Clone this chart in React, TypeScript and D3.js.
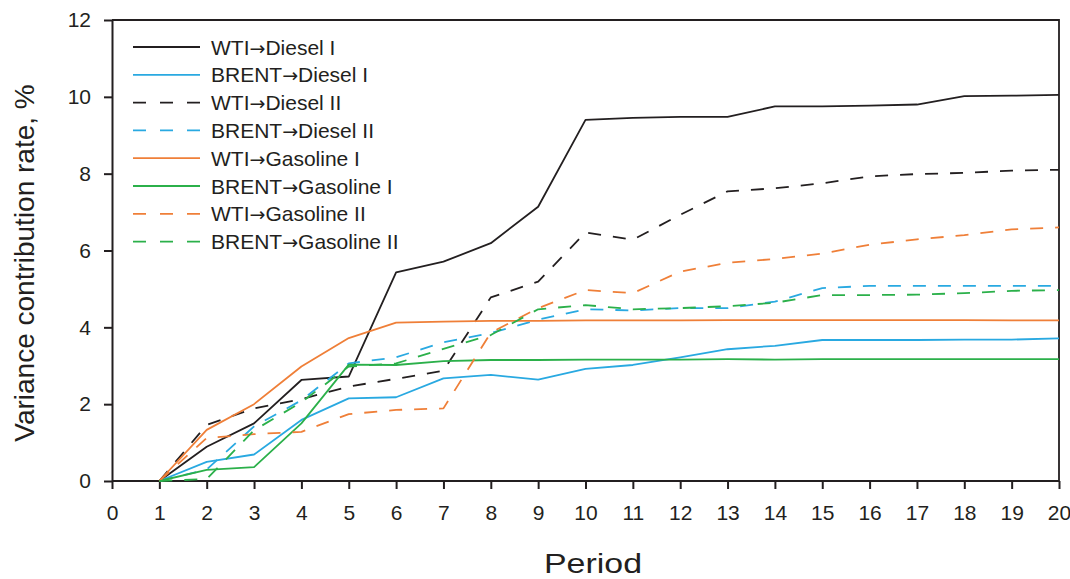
import React, { useEffect, useRef } from "react";
import * as d3 from "d3";

// periods 1..20
const periods = [1, 2, 3, 4, 5, 6, 7, 8, 9, 10, 11, 12, 13, 14, 15, 16, 17, 18, 19, 20];

const wtiDiesel1 = [0, 0.89, 1.5, 2.63, 2.72, 5.43, 5.71, 6.19, 7.14, 9.4, 9.45, 9.48, 9.48, 9.75, 9.75, 9.77, 9.8, 10.02, 10.03, 10.05];
const brentDiesel1 = [0, 0.5, 0.69, 1.59, 2.15, 2.18, 2.67, 2.76, 2.64, 2.92, 3.02, 3.22, 3.43, 3.52, 3.67, 3.67, 3.67, 3.68, 3.68, 3.71];
const wtiDiesel2 = [0, 1.46, 1.89, 2.13, 2.46, 2.66, 2.87, 4.78, 5.19, 6.47, 6.28, 6.93, 7.54, 7.62, 7.75, 7.93, 7.99, 8.02, 8.08, 8.1];
const brentDiesel2 = [0, 0.3, 1.42, 2.1, 3.06, 3.22, 3.61, 3.85, 4.2, 4.47, 4.44, 4.5, 4.5, 4.67, 5.02, 5.08, 5.08, 5.08, 5.08, 5.08];
const wtiGasoline1 = [0, 1.33, 2.0, 2.98, 3.72, 4.12, 4.15, 4.17, 4.17, 4.18, 4.18, 4.18, 4.19, 4.19, 4.19, 4.19, 4.19, 4.19, 4.18, 4.18];
const brentGasoline1 = [0, 0.29, 0.36, 1.5, 3.03, 3.02, 3.12, 3.15, 3.15, 3.16, 3.16, 3.16, 3.17, 3.16, 3.17, 3.17, 3.17, 3.17, 3.17, 3.17];
const wtiGasoline2 = [0, 1.12, 1.22, 1.28, 1.74, 1.85, 1.89, 3.86, 4.5, 4.97, 4.89, 5.45, 5.68, 5.78, 5.92, 6.15, 6.29, 6.4, 6.55, 6.6];
const brentGasoline2 = [0, 0.05, 1.32, 2.05, 2.98, 3.06, 3.44, 3.8, 4.47, 4.58, 4.47, 4.5, 4.55, 4.64, 4.84, 4.84, 4.85, 4.89, 4.95, 4.97];

const seriesNames = [
  "WTI→Diesel I",
  "BRENT→Diesel I",
  "WTI→Diesel II",
  "BRENT→Diesel II",
  "WTI→Gasoline I",
  "BRENT→Gasoline I",
  "WTI→Gasoline II",
  "BRENT→Gasoline II",
];
const seriesValues = [
  wtiDiesel1, brentDiesel1, wtiDiesel2, brentDiesel2,
  wtiGasoline1, brentGasoline1, wtiGasoline2, brentGasoline2,
];
const seriesColors = ["#231f20", "#29a9e1", "#231f20", "#29a9e1", "#ef7f38", "#2bb04a", "#ef7f38", "#2bb04a"];
const seriesDashed = [false, false, true, true, false, false, true, true];

const xTicks = [0, 1, 2, 3, 4, 5, 6, 7, 8, 9, 10, 11, 12, 13, 14, 15, 16, 17, 18, 19, 20];
const yTicks = [0, 2, 4, 6, 8, 10, 12];

const font = "'Liberation Sans', Arial, sans-serif";
const axisColor = "#231f20";

const App = () => {
  const ref = useRef<SVGSVGElement>(null);

  useEffect(() => {
    const width = 1070;
    const height = 579;
    const left = 112, right = 1059, top = 20, bottom = 481;

    const svg = d3.select(ref.current);
    svg.selectAll("*").remove();
    svg.attr("width", width).attr("height", height);

    const x = d3.scaleLinear().domain([0, 20]).range([left, right]);
    const y = d3.scaleLinear().domain([0, 12]).range([bottom, top]);

    // frame (top and right)
    svg.append("path")
      .attr("d", `M${left},${top}H${right}V${bottom}`)
      .attr("fill", "none")
      .attr("stroke", axisColor)
      .attr("stroke-width", 1.8);

    const xAxis = svg.append("g")
      .attr("transform", `translate(0,${bottom})`)
      .call(d3.axisBottom(x).tickValues(xTicks).tickSize(8).tickPadding(16).tickSizeOuter(0));
    const yAxis = svg.append("g")
      .attr("transform", `translate(${left},0)`)
      .call(d3.axisLeft(y).tickValues(yTicks).tickSize(8).tickPadding(13).tickSizeOuter(0));

    [xAxis, yAxis].forEach(g => {
      g.select(".domain").attr("stroke", axisColor).attr("stroke-width", 2);
      g.selectAll(".tick line").attr("stroke", axisColor).attr("stroke-width", 2);
      g.selectAll(".tick text")
        .attr("fill", axisColor)
        .style("font-family", font)
        .style("font-size", "21px");
    });
    xAxis.select(".domain").attr("d", `M${left},0H${right}`);

    // series
    const line = d3.line<number>()
      .x((_, i) => x(periods[i]))
      .y(d => y(d));

    seriesValues.forEach((vals, i) => {
      svg.append("path")
        .datum(vals)
        .attr("d", line)
        .attr("fill", "none")
        .attr("stroke", seriesColors[i])
        .attr("stroke-width", 1.8)
        .attr("stroke-linejoin", "round")
        .attr("stroke-dasharray", seriesDashed[i] ? "13,12" : null);
    });

    // legend
    const legend = svg.append("g");
    seriesNames.forEach((name, i) => {
      const ly = 47 + i * 27.8;
      const [src, dst] = name.split("→");
      legend.append("line")
        .attr("x1", 133).attr("x2", 200)
        .attr("y1", ly).attr("y2", ly)
        .attr("stroke", seriesColors[i])
        .attr("stroke-width", 1.8)
        .attr("stroke-dasharray", seriesDashed[i] ? "13,14" : null);
      const t = legend.append("text")
        .attr("x", 211)
        .attr("y", ly)
        .attr("dy", "0.36em")
        .attr("fill", axisColor)
        .style("font-family", font)
        .style("font-size", "21px");
      t.append("tspan").text(src);
      t.append("tspan").style("font-family", "'DejaVu Sans'").style("font-size", "19px").text("→");
      t.append("tspan").text(dst);
    });

    // axis titles
    svg.append("text")
      .attr("transform", `translate(34,263) rotate(-90)`)
      .attr("text-anchor", "middle")
      .attr("fill", axisColor)
      .style("font-family", font)
      .style("font-size", "28px")
      .text("Variance contribution rate, %");

    svg.append("text")
      .attr("x", 593)
      .attr("y", 573)
      .attr("text-anchor", "middle")
      .attr("fill", axisColor)
      .attr("textLength", 98)
      .attr("lengthAdjust", "spacingAndGlyphs")
      .style("font-family", font)
      .style("font-size", "28px")
      .text("Period");
  }, []);

  return (
    <svg
      ref={ref}
      style={{ position: "absolute", left: 0, top: 0, display: "block", background: "#fff" }}
    ></svg>
  );
};

export default App;
